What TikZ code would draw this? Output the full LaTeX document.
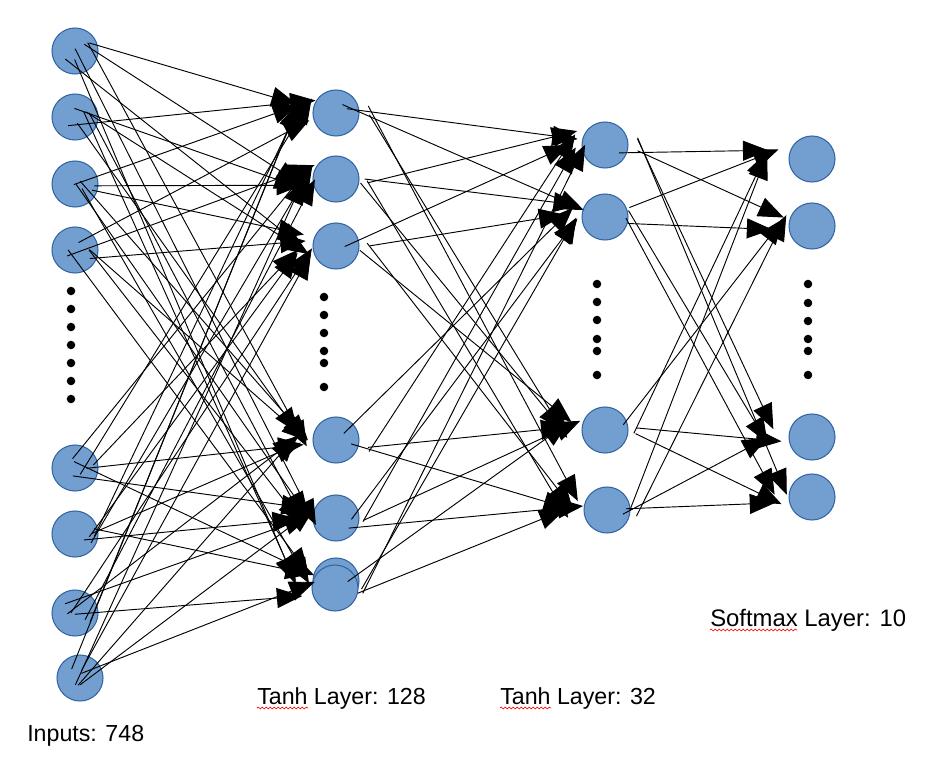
\documentclass[tikz,border=0pt]{standalone}
\usepackage{fontspec}
\setmainfont{Liberation Sans}
\usetikzlibrary{arrows.meta,calc,decorations.pathmorphing}
\definecolor{nfill}{HTML}{729FCF}
\definecolor{nborder}{HTML}{3465A4}
\tikzset{
  neuron/.style={circle,draw=nborder,line width=0.8pt,fill=nfill,minimum size=34.5pt,inner sep=0pt},
  dotmark/.style={circle,fill=black,minimum size=6.4pt,inner sep=0pt},
  edge/.style={line width=0.7pt,-{Triangle[length=19pt,width=15pt]}},
  lbl/.style={anchor=base west,inner sep=0pt,font=\fontsize{17.4}{20}\selectfont},
  squig/.style={red,line width=0.5pt,decorate,decoration={snake,amplitude=0.7pt,segment length=3pt}}
}
\begin{document}
\begin{tikzpicture}[x=0.75pt,y=-0.75pt]
\useasboundingbox (0,0) rectangle (944,766);
% input layer
\node[neuron] (I1) at (75,51) {};
\node[neuron] (I2) at (75,117) {};
\node[neuron] (I3) at (75,184) {};
\node[neuron] (I4) at (75,250) {};
\node[neuron] (I5) at (75,468) {};
\node[neuron] (I6) at (75,534) {};
\node[neuron] (I7) at (75,613) {};
\node[neuron] (I8) at (80,678) {};
\foreach \y [count=\k] in {291,309,327,345,363,381,399} \node[dotmark] (di\k) at (71,\y) {};
% hidden layer 1
\node[neuron] (H1) at (336,113) {};
\node[neuron] (H2) at (336,179) {};
\node[neuron] (H3) at (336,246) {};
\node[neuron] (H4) at (336,440) {};
\node[neuron] (H5) at (336,518) {};
\node[neuron] (H6b) at (336,581) {};
\node[neuron] (H6) at (335,588) {};
\foreach \y [count=\k] in {297,315,333,351,363,387} \node[dotmark] (dh\k) at (324,\y) {};
% hidden layer 2
\node[neuron] (J1) at (605,145) {};
\node[neuron] (J2) at (605,217) {};
\node[neuron] (J3) at (605,430) {};
\node[neuron] (J4) at (607,510) {};
\foreach \y [count=\k] in {284,302,320,339,351,375} \node[dotmark] (dj\k) at (597,\y) {};
% output layer
\node[neuron] (O1) at (812,159) {};
\node[neuron] (O2) at (812,226) {};
\node[neuron] (O3) at (812,437) {};
\node[neuron] (O4) at (812,497) {};
\foreach \y [count=\k] in {284,303,321,339,351,375} \node[dotmark] (do\k) at (808,\y) {};
% connections
\pgfmathsetseed{4711}
\foreach \s in {I1,I2,I3,I4,I5,I6,I7,I8}{
  \foreach \t in {H1,H2,H3,H4,H5,H6}{
    \pgfmathsetmacro\ax{rnd*30-10}
    \pgfmathsetmacro\ay{rnd*20-10}
    \pgfmathsetmacro\bx{-20-rnd*20}
    \pgfmathsetmacro\by{rnd*24-15}
    \draw[edge] ($(\s)+(\ax,\ay)$) -- ($(\t)+(\bx,\by)$);
  }
}
\foreach \s in {H1,H2,H3,H4,H5,H6}{
  \foreach \t in {J1,J2,J3,J4}{
    \pgfmathsetmacro\ax{rnd*28+6}
    \pgfmathsetmacro\ay{rnd*22-10}
    \pgfmathsetmacro\bx{-18-rnd*26}
    \pgfmathsetmacro\by{rnd*22-14}
    \draw[edge] ($(\s)+(\ax,\ay)$) -- ($(\t)+(\bx,\by)$);
  }
}
\foreach \s in {J1,J2,J3,J4}{
  \foreach \t in {O1,O2,O3,O4}{
    \pgfmathsetmacro\ax{rnd*22+12}
    \pgfmathsetmacro\ay{rnd*20-10}
    \pgfmathsetmacro\bx{-25-rnd*22}
    \pgfmathsetmacro\by{rnd*20-12}
    \draw[edge] ($(\s)+(\ax,\ay)$) -- ($(\t)+(\bx,\by)$);
  }
}
% labels
\node[lbl] (tin) at (27,741) {Inputs: 748};
\node[lbl] (th1) at (257,704) {Tanh Layer: 128};
\node[lbl] (th2) at (500,704) {Tanh Layer: 32};
\node[lbl,font=\fontsize{17.9}{20}\selectfont] (tso) at (710,626) {Softmax Layer: 10};
\draw[squig] (257,708) -- (308,708);
\draw[squig] (500,708) -- (551,708);
\draw[squig] (710,630) -- (797,630);
\end{tikzpicture}
\end{document}
